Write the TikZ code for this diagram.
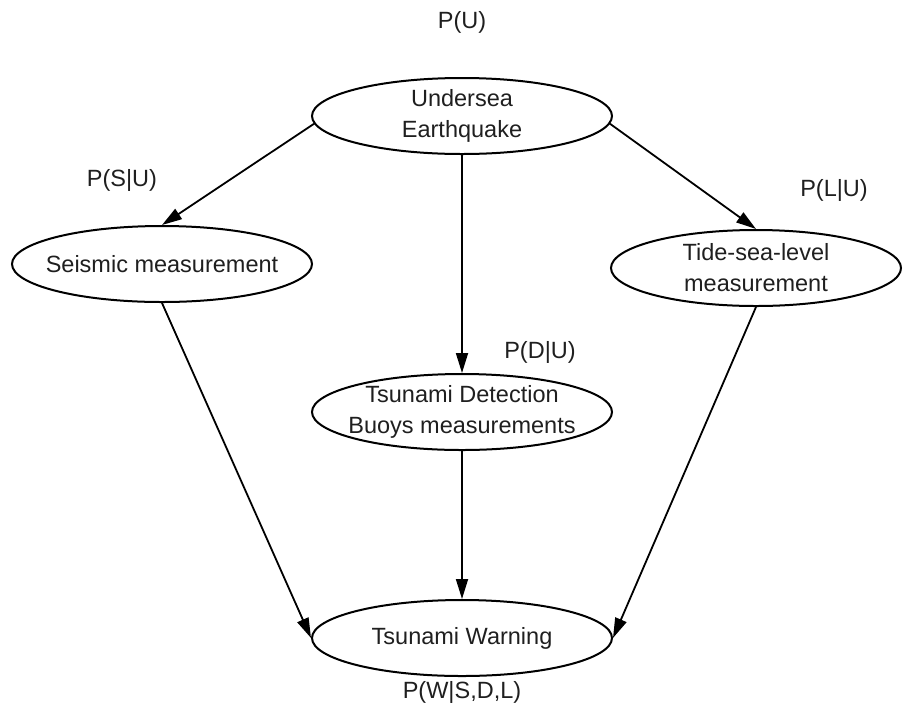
\documentclass[tikz,border=0pt]{standalone}
\usepackage{fontspec}
\setmainfont{Liberation Sans}
\usetikzlibrary{shapes.geometric,arrows.meta}
\begin{document}
\begin{tikzpicture}[x=1pt,y=-1pt,
  txt/.style={font=\fontsize{23.5}{31}\selectfont,text=black!88,align=center},
  var/.style={ellipse,draw,line width=2pt,inner sep=0pt,
    minimum width=300pt,minimum height=76pt,
    label={[txt]center:#1}},
  prob/.style={txt},
  link/.style={line width=1.8pt,-{Triangle[length=20pt,width=12pt]}}]
\useasboundingbox (0,0) rectangle (904,713);
% variables of the network
\node[var={Undersea\\Earthquake}] (u) at (462,116) {};
\node[var={Seismic measurement}] (s) at (162,264) {};
\node[var={Tide-sea-level\\measurement},minimum width=290pt] (t) at (756,268) {};
\node[var={Tsunami Detection\\Buoys measurements}] (d) at (462,412) {};
\node[var={Tsunami Warning}] (w) at (462,638) {};
% conditional probability labels
\node[prob] (pu) at (462,22) {P(U)};
\node[prob] (ps) at (122,180) {P(S|U)};
\node[prob] (pl) at (834,190) {P(L|U)};
\node[prob] (pd) at (540,352) {P(D|U)};
\node[prob] (pw) at (462,692) {P(W|S,D,L)};
% dependencies
\draw[link] (u.183) -- (s.north);
\draw[link] (u.-3) -- (t.north);
\draw[link] (u.south) -- (d.north);
\draw[link] (d.south) -- (w.north);
\draw[link] (s.south) -- (w.west);
\draw[link] (t.south) -- (w.east);
\end{tikzpicture}
\end{document}
